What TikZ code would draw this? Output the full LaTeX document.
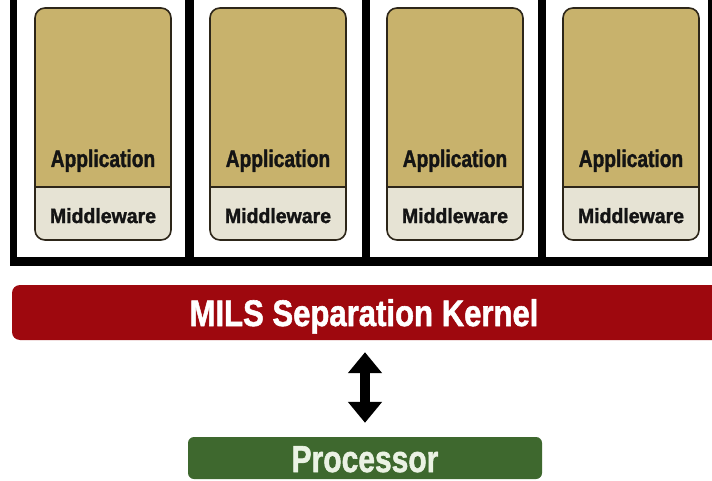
\documentclass[tikz,border=0pt]{standalone}
\usepackage{fontspec}
\setmainfont{Liberation Sans}[BoldFeatures={FakeBold=1.6}]
\usetikzlibrary{arrows.meta}

\definecolor{apptan}{RGB}{200,178,108}
\definecolor{midbeige}{RGB}{230,227,212}
\definecolor{boxedge}{RGB}{45,38,25}
\definecolor{kernelred}{RGB}{158,8,14}
\definecolor{procgreen}{RGB}{62,104,46}
\definecolor{proctext}{RGB}{235,242,228}

% condensed heavy label: size, horizontal squeeze, text
\newcommand{\condlabel}[3]{\fontsize{#1}{#1}\selectfont\bfseries\scalebox{#2}[1]{#3}}

\tikzset{
  wall/.style={fill=black},
  boxline/.style={draw=boxedge, line width=1.6pt},
  applabel/.style={anchor=base, inner sep=0pt, text=black!92},
  kernelbar/.style={fill=kernelred, rounded corners=8pt, minimum width=708pt,
    minimum height=55pt, inner sep=0pt},
  procbar/.style={fill=procgreen, rounded corners=6pt, minimum width=354pt,
    minimum height=42pt, inner sep=0pt},
  bartext/.style={anchor=base, inner sep=0pt},
  bigarrow/.style={line width=10pt,
    {Triangle[length=21pt,width=33pt]}-{Triangle[length=21pt,width=33pt]}},
}

\begin{document}
\begin{tikzpicture}[x=1pt,y=-1pt]
  \useasboundingbox (0,0) rectangle (712,481);
  \clip (0,0) rectangle (712,481);
  \fill[white] (0,0) rectangle (712,481);

  % partition walls
  \fill[wall] (10,0) rectangle (17,266);
  \fill[wall] (10,257) rectangle (712,266);
  \fill[wall] (185,0) rectangle (194,266);
  \fill[wall] (362,0) rectangle (370,266);
  \fill[wall] (538,0) rectangle (546,266);
  \fill[wall] (708,0) rectangle (716,266);

  % application / middleware stacks
  \foreach \L/\n in {35/1,210/2,387/3,563/4} {
    \begin{scope}
      \clip[rounded corners=10pt] (\L,8) rectangle (\L+136,240);
      \fill[apptan] (\L,8) rectangle (\L+136,187);
      \fill[midbeige] (\L,187) rectangle (\L+136,240);
    \end{scope}
    \draw[boxline, rounded corners=10pt] (\L,8) rectangle (\L+136,240);
    \draw[boxline] (\L,187) -- (\L+136,187);
    \node[applabel] (app\n) at (\L+68,167) {\condlabel{24}{0.8}{Application}};
    \node[applabel] (mid\n) at (\L+68,223) {\condlabel{20.5}{0.95}{Middleware}};
  }

  % separation kernel
  \node[kernelbar] (kernel) at (366,312.5) {};
  \node[bartext, text=white] (kerneltext) at (364,326)
    {\condlabel{37}{0.84}{MILS Separation Kernel}};

  % processor
  \node[procbar] (proc) at (365,458) {};
  \node[bartext, text=proctext] (proctxt) at (365,472)
    {\condlabel{37.5}{0.8}{Processor}};

  % kernel <-> processor
  \draw[bigarrow, shorten <=12pt, shorten >=14pt]
    (proc.north |- kernel.south) -- (proc.north);
\end{tikzpicture}
\end{document}
